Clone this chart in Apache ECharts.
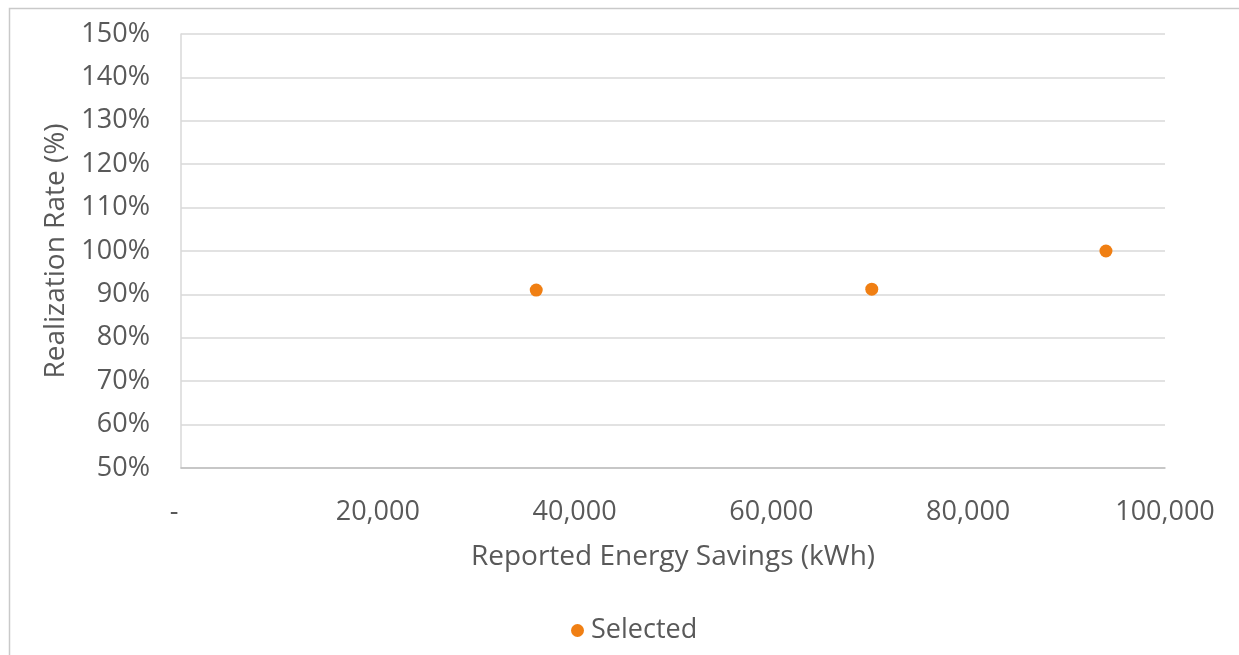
<!DOCTYPE html>
<html>
<head>
<meta charset="utf-8">
<script src="https://cdn.jsdelivr.net/npm/echarts@6/dist/echarts.min.js"></script>
<style>
html,body{margin:0;padding:0;background:#fff;}
#chart{width:1239px;height:655px;}
</style>
</head>
<body>
<div id="chart"></div>
<script>
const seriesName = 'Selected';
const reportedSavings = [36100, 70200, 94000];
const realizationRate = [91.0, 91.2, 100.0];
const xAxisTitle = 'Reported Energy Savings (kWh)';
const yAxisTitle = 'Realization Rate (%)';

const points = reportedSavings.map((x, i) => [x, realizationRate[i]]);
const FONT = '"Open Sans", "Liberation Sans", sans-serif';
const TXT = '#595959';

const chart = echarts.init(document.getElementById('chart'), null, {renderer: 'canvas'});
chart.setOption({
  animation: false,
  textStyle: {fontFamily: FONT},
  grid: {left: 181, right: 74, top: 34, bottom: 187, containLabel: false},
  graphic: [{
    type: 'rect', silent: true,
    shape: {x: 9.5, y: 8.5, width: 1300, height: 700},
    style: {fill: 'none', stroke: '#C9C9C9', lineWidth: 1.5}
  }],
  legend: {
    data: [{name: seriesName, icon: 'circle'}],
    left: 566, top: 612,
    itemWidth: 13, itemHeight: 13, itemGap: 8,
    textStyle: {color: TXT, fontSize: 27, fontFamily: FONT, padding: [0, 0, 0, 2]}
  },
  xAxis: {
    type: 'value', min: 0, max: 100000, interval: 20000,
    name: xAxisTitle, nameLocation: 'middle', nameGap: 75,
    nameTextStyle: {color: TXT, fontSize: 28, fontFamily: FONT},
    axisLine: {show: true, lineStyle: {color: '#BFBFBF', width: 1.5}},
    axisTick: {show: false},
    splitLine: {show: false},
    axisLabel: {
      color: TXT, fontSize: 27, fontFamily: FONT, margin: 31,
      formatter: v => v === 0 ? '-  ' : v.toLocaleString('en-US')
    }
  },
  yAxis: {
    type: 'value', min: 50, max: 150, interval: 10,
    name: yAxisTitle, nameLocation: 'middle', nameGap: 108, nameRotate: 90,
    nameTextStyle: {color: TXT, fontSize: 28, fontFamily: FONT},
    axisLine: {show: true, lineStyle: {color: '#D9D9D9', width: 1.5}},
    axisTick: {show: false},
    splitLine: {show: true, lineStyle: {color: '#D9D9D9', width: 1.5}},
    axisLabel: {
      color: TXT, fontSize: 27, fontFamily: FONT, margin: 31,
      padding: [4, 0, 0, 0],
      formatter: v => v + '%'
    }
  },
  series: [{
    name: seriesName, type: 'scatter', data: points,
    symbol: 'circle', symbolSize: 13,
    itemStyle: {color: '#F07F13', opacity: 1}
  }]
});
</script>
</body>
</html>
